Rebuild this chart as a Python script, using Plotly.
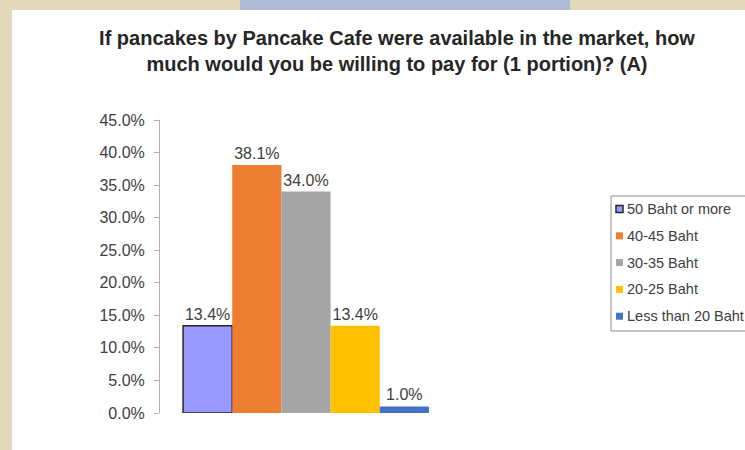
import plotly.graph_objects as go

# Survey answers: price a respondent would pay for one portion
price_bands = ["50 Baht or more", "40-45 Baht", "30-35 Baht", "20-25 Baht", "Less than 20 Baht"]
share_pct = [13.4, 38.1, 34.0, 13.4, 1.0]
bar_colors = ["#9999ff", "#ed7d31", "#a5a5a5", "#ffc000", "#4472c4"]
bar_edges = ["#262626", "#ed7d31", "#a5a5a5", "#ffc000", "#4472c4"]
edge_widths = [1.5, 0, 0, 0, 0]
y_ticks = [0, 5, 10, 15, 20, 25, 30, 35, 40, 45]

W, H = 745, 450
L, R, T, B = 160, 293, 120, 37
PW, PH = W - L - R, H - T - B
FONT = "Liberation Sans, Arial"


def px_x(px):
    return (px - L) / PW


def px_y(py):
    return (H - B - py) / PH


fig = go.Figure()
for i, (name, val) in enumerate(zip(price_bands, share_pct)):
    fig.add_trace(go.Bar(
        x=["A"], y=[val], name=name,
        marker=dict(color=bar_colors[i], line=dict(color=bar_edges[i], width=edge_widths[i])),
        text=[f"{val:.1f}%"], textposition="outside", cliponaxis=False,
        textfont=dict(family=FONT, size=16, color="#404040"),
        showlegend=False,
    ))

# decorative border strips behind the white chart panel
shapes = [
    dict(type="rect", xref="paper", yref="paper", x0=px_x(0), x1=px_x(12), y0=px_y(450), y1=px_y(0),
         fillcolor="#e4d8bb", line_width=0, layer="below"),
    dict(type="rect", xref="paper", yref="paper", x0=px_x(0), x1=px_x(745), y0=px_y(10), y1=px_y(0),
         fillcolor="#e4d8bb", line_width=0, layer="below"),
    dict(type="rect", xref="paper", yref="paper", x0=px_x(240), x1=px_x(570), y0=px_y(10), y1=px_y(0),
         fillcolor="#aebbd6", line_width=0, layer="below"),
]

# boxed legend on the right, running off the right edge
annotations = []
box_left, box_top, row0, row_step = 611, 196, 209, 26.8
shapes.append(dict(type="rect", xref="paper", yref="paper",
                   x0=px_x(box_left), x1=px_x(770), y0=px_y(box_top + 135), y1=px_y(box_top),
                   fillcolor="white", line=dict(color="#8c8c8c", width=1)))
for i, name in enumerate(price_bands):
    cy = row0 + i * row_step
    shapes.append(dict(type="rect", xref="paper", yref="paper",
                       x0=px_x(616), x1=px_x(623), y0=px_y(cy + 3.5), y1=px_y(cy - 3.5),
                       fillcolor=bar_colors[i],
                       line=dict(color=bar_edges[i], width=1.5 if edge_widths[i] else 0)))
    annotations.append(dict(xref="paper", yref="paper", x=px_x(625), y=px_y(cy),
                            xanchor="left", yanchor="middle", showarrow=False, text=name,
                            font=dict(family=FONT, size=14.5, color="#404040")))

fig.update_layout(
    width=W, height=H,
    margin=dict(l=L, r=R, t=T, b=B, autoexpand=False),
    paper_bgcolor="white", plot_bgcolor="white",
    barmode="group", bargap=0.158, bargroupgap=0,
    font=dict(family=FONT, color="#404040"),
    title=dict(
        text="If pancakes by Pancake Cafe were available in the market, how<br>much would you be willing to pay for (1 portion)? (A)",
        x=397 / W, xanchor="center", xref="container",
        y=1 - 45 / H, yanchor="top", yref="container",
        font=dict(family=FONT, size=20, color="#262626", weight="bold"),
    ),
    xaxis=dict(showticklabels=False, showline=False, showgrid=False, zeroline=False, ticks=""),
    yaxis=dict(
        range=[0, 45], tickvals=y_ticks, ticktext=[f"{v:.1f}%" for v in y_ticks],
        showline=True, linecolor="#b0b0b0", linewidth=1,
        ticks="outside", ticklen=5, tickcolor="#b0b0b0",
        showgrid=False, zeroline=False,
        tickfont=dict(size=16, color="#404040"), ticklabelstandoff=6,
    ),
    shapes=shapes,
    annotations=annotations,
    showlegend=False,
)

fig.write_html("out.html")
